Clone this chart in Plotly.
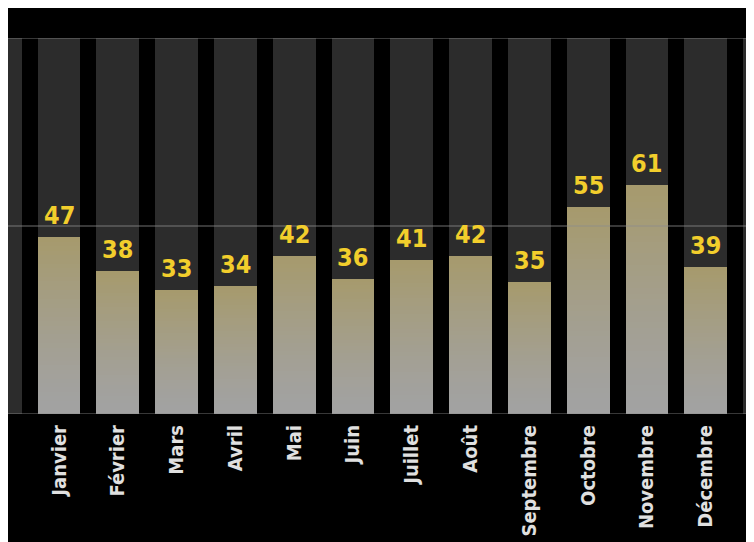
import plotly.graph_objects as go

months = ["Janvier", "Février", "Mars", "Avril", "Mai", "Juin", "Juillet",
          "Août", "Septembre", "Octobre", "Novembre", "Décembre"]
values = [47, 38, 33, 34, 42, 36, 41, 42, 35, 55, 61, 39]
y_max = 100
y_ticks = [0, 50, 100]

n = len(months)
xs = list(range(n))
bar_w = 0.73
gap_w = 1 - bar_w

top_rgb = (166, 154, 108)
bot_rgb = (162, 162, 162)
N_SEG = 40
FONT = "DejaVu Sans Condensed, sans-serif"

fig = go.Figure()

# black separator stripes at category boundaries
bounds = [i - 0.5 for i in range(n + 1)]
fig.add_trace(go.Bar(x=bounds, y=[y_max] * len(bounds), width=gap_w,
                     marker=dict(color="#000000", line=dict(width=0)),
                     hoverinfo="skip", showlegend=False))

# gradient bars as stacked slices
for k in range(N_SEG):
    t = (k + 0.5) / N_SEG
    tt = t ** 1.3
    c = tuple(round(bot_rgb[j] + (top_rgb[j] - bot_rgb[j]) * tt) for j in range(3))
    fig.add_trace(go.Bar(x=xs, y=[v / N_SEG for v in values], width=bar_w,
                         base=[v * k / N_SEG for v in values],
                         marker=dict(color="rgb(%d,%d,%d)" % c, line=dict(width=0)),
                         hoverinfo="skip", showlegend=False))

for x, v in zip(xs, values):
    fig.add_annotation(x=x, y=v, xref="x", yref="y", text=str(v), showarrow=False,
                       yanchor="bottom", yshift=5,
                       font=dict(family=FONT, size=25, color="#f2ce2c", weight="bold"))

for yv in y_ticks:
    fig.add_shape(type="line", xref="paper", yref="y", x0=0, x1=1, y0=yv, y1=yv,
                  line=dict(color="rgba(140,140,140,0.8)", width=1), layer="above")

fig.update_layout(
    width=746, height=534,
    margin=dict(l=0, r=0, t=30, b=128),
    paper_bgcolor="#000000", plot_bgcolor="#2c2c2c",
    barmode="overlay", bargap=0,
    xaxis=dict(range=[(8 - 59) / 58.8, 11.82], tickvals=xs, ticktext=months,
               tickangle=-90, showgrid=False, zeroline=False, showline=False,
               ticks="", ticklabelstandoff=6, automargin=False,
               tickfont=dict(family=FONT, size=20, color="#e0e0e0", weight="bold")),
    yaxis=dict(range=[0, y_max], showgrid=False, zeroline=False, showticklabels=False,
               showline=False, ticks="", automargin=False),
)

fig.write_html("out.html")
